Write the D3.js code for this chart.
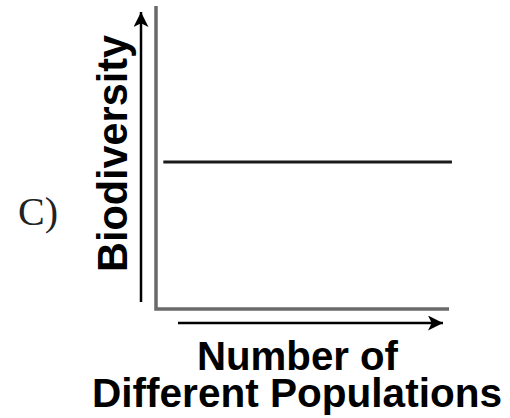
<!DOCTYPE html>
<html>
<head>
<meta charset="utf-8">
<script src="https://cdn.jsdelivr.net/npm/d3@7"></script>
<style>
html,body{margin:0;padding:0;background:#fff;}
svg{display:block;}
</style>
</head>
<body>
<svg id="chart" width="510" height="418"></svg>
<script>
// Data
const panelLabel = "C)";
const yTitle = "Biodiversity";
const xTitleLines = ["Number of", "Different Populations"];
const xDomain = [0, 10];
const yDomain = [0, 10];
const lineX = [0.25, 10.1];
const lineY = [4.85, 4.85];

const svg = d3.select("#chart");
const x = d3.scaleLinear().domain(xDomain).range([156, 449]);
const y = d3.scaleLinear().domain(yDomain).range([309, 6]);

const defs = svg.append("defs");
defs.append("marker").attr("id","ah").attr("viewBox","0 0 10 10")
  .attr("refX",10).attr("refY",5).attr("markerWidth",7.2).attr("markerHeight",6)
  .attr("markerUnits","strokeWidth").attr("orient","auto")
  .append("path").attr("d","M0,0 L10,5 L0,10 L2.5,5 Z").attr("fill","#000");

// axes (gray L-frame)
svg.append("path")
  .attr("d", `M${x(0)},${y(10)} L${x(0)},${y(0)} L${x(10)},${y(0)}`)
  .attr("fill","none").attr("stroke","#6a6a6a").attr("stroke-width",3.5);

// arrows
svg.append("line").attr("x1",141).attr("x2",141).attr("y1",302).attr("y2",12)
  .attr("stroke","#000").attr("stroke-width",2.5).attr("marker-end","url(#ah)");
svg.append("line").attr("x1",178).attr("x2",443).attr("y1",323).attr("y2",323)
  .attr("stroke","#000").attr("stroke-width",2.5).attr("marker-end","url(#ah)");

// data line
const line = d3.line().x(d=>x(d[0])).y(d=>y(d[1]));
svg.append("path").datum(lineX.map((v,i)=>[v,lineY[i]]))
  .attr("d", line).attr("fill","none").attr("stroke","#1a1a1a").attr("stroke-width",3);

// texts
svg.append("text").attr("x",18).attr("y",225)
  .attr("font-family","'Liberation Serif', 'Times New Roman', serif")
  .attr("font-size",40).attr("fill","#222").text(panelLabel);

svg.append("text").attr("transform","translate(127,153.5) rotate(-90)")
  .attr("text-anchor","middle")
  .attr("font-family","'Liberation Sans', Arial, sans-serif").attr("font-weight","bold")
  .attr("font-size",42).attr("textLength",237).attr("lengthAdjust","spacingAndGlyphs")
  .attr("fill","#000").text(yTitle);

const xt = [{t:xTitleLines[0], cx:297.5, by:370, len:201},{t:xTitleLines[1], cx:297, by:407, len:410}];
svg.selectAll("text.xt").data(xt).enter().append("text").attr("class","xt")
  .attr("x",d=>d.cx).attr("y",d=>d.by).attr("text-anchor","middle")
  .attr("font-family","'Liberation Sans', Arial, sans-serif").attr("font-weight","bold")
  .attr("font-size",40).attr("textLength",d=>d.len).attr("lengthAdjust","spacingAndGlyphs")
  .attr("fill","#000").text(d=>d.t);
</script>
</body>
</html>
